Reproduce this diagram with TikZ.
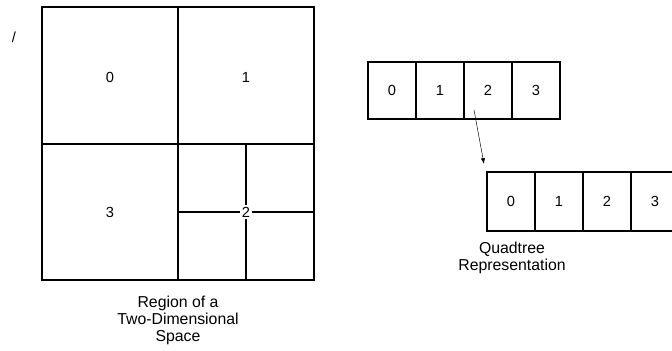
\documentclass[tikz,border=0pt]{standalone}
\usepackage{fontspec}
\setmainfont{Liberation Sans}
\usetikzlibrary{arrows.meta, positioning}

\tikzset{
    region/.style={line width=1.1pt},
    cell/.style={draw, line width=1.1pt, minimum width=1.44cm, minimum height=1.71cm, inner sep=0pt, font=\fontsize{12.5}{14}\selectfont},
    digit/.style={font=\fontsize{12.5}{14}\selectfont},
    caption/.style={align=center, font=\fontsize{13.5}{14.5}\selectfont}
}

\begin{document}
\begin{tikzpicture}[x=0.03cm, y=-0.03cm]
    \clip (0,0) rectangle (672,350);

    % --- Region of the plane ---
    \draw[region] (42,7) rectangle (314,280);
    \draw[region] (178,7) -- (178,280);
    \draw[region] (42,144) -- (314,144);
    % quadrant 2 split again
    \draw[region] (246,144) -- (246,280);
    \draw[region] (178,212) -- (314,212);

    \node[digit] (q0) at (110,77) {0};
    \node[digit] (q1) at (246,77) {1};
    \node[digit] (q3) at (110,212) {3};
    \node[digit, fill=white, inner sep=1.5pt] (q2) at (246,212) {2};
    \node[digit] (tick) at (14,37) {/};

    \node[caption] (regcap) at (178,320) {Region of a\\Two-Dimensional\\Space};

    % --- Quadtree arrays ---
    \foreach \i in {0,...,3}
        \node[cell] (t\i) at (392+48*\i, 90.5) {\i};
    \foreach \i in {0,...,3}
        \node[cell, minimum height=1.77cm] (b\i) at (511+48*\i, 201.5) {\i};

    % pointer from entry 2
    \coordinate (ptr) at (474,110);
    \coordinate (tip) at (484,164);
    \draw[-{Latex[length=5pt, width=3.5pt]}, thin] (ptr) -- (tip);

    \node[caption] (qcap) at (512,258) {Quadtree\\Representation};
\end{tikzpicture}
\end{document}
